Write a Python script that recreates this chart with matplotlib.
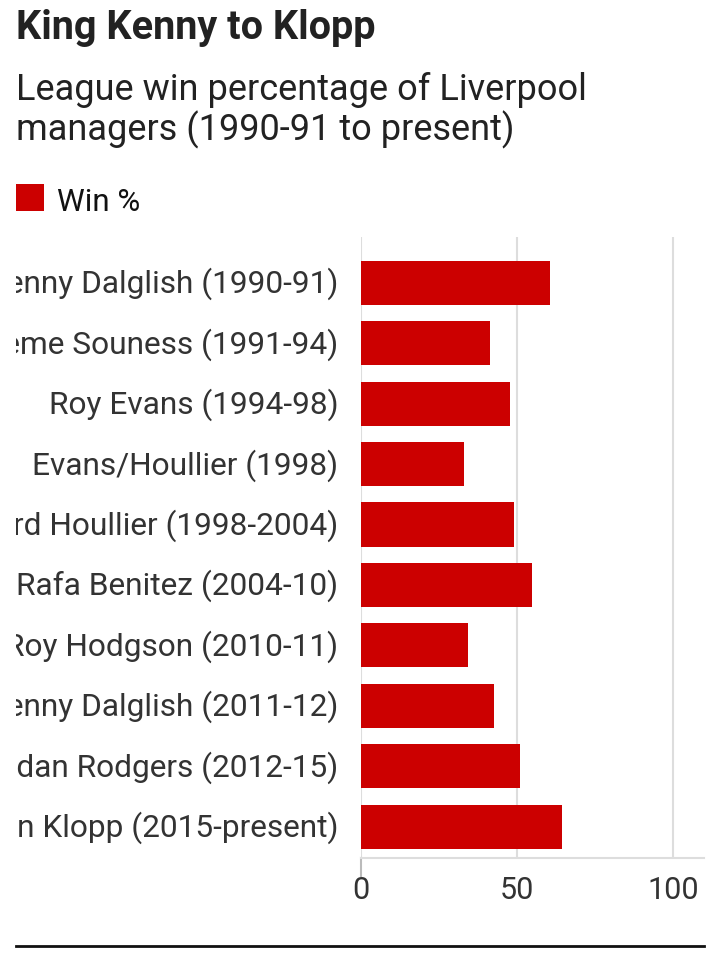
import matplotlib
matplotlib.use("Agg")
import matplotlib.pyplot as plt
from matplotlib.lines import Line2D
from matplotlib.patches import Rectangle
from matplotlib.transforms import Bbox, TransformedBbox, blended_transform_factory, offset_copy

plt.rcParams['font.family'] = ['Roboto', 'DejaVu Sans']

managers = ['Kenny Dalglish (1990-91)', 'Graeme Souness (1991-94)', 'Roy Evans (1994-98)',
            'Evans/Houllier (1998)', 'Gerard Houllier (1998-2004)', 'Rafa Benitez (2004-10)',
            'Roy Hodgson (2010-11)', 'Kenny Dalglish (2011-12)', 'Brendan Rodgers (2012-15)',
            'Jurgen Klopp (2015-present)']
win_pct = [60.7, 41.5, 47.9, 33.2, 49.2, 55.0, 34.5, 42.8, 51.1, 64.6]
x_ticks = [0, 50, 100]

W, H = 720, 954
fig = plt.figure(figsize=(W / 100, H / 100), dpi=100)

# axes placed in pixel terms
left, right, top, bottom = 360.5, 704, 238, 859
ax = fig.add_axes([left / W, 1 - bottom / H, (right - left) / W, (bottom - top) / H])

red = '#cc0000'
ypos = list(range(len(managers)))
ax.barh(ypos, win_pct, height=0.73, color=red, zorder=3)
ax.set_ylim(9.52, -0.76)
ax.set_xlim(0, 110)

ax.set_xticks(x_ticks)
ax.set_xticklabels([str(t) for t in x_ticks])
ax.set_yticks([])
ax.tick_params(axis='x', length=0, pad=12, labelsize=22, labelcolor='#333333')

ax.grid(axis='x', color='#dddddd', linewidth=1.5, zorder=0)
for s in ['top', 'right', 'left']:
    ax.spines[s].set_visible(False)
ax.spines['bottom'].set_color('#dddddd')
ax.spines['bottom'].set_linewidth(1.5)

# small tick under zero
trans = blended_transform_factory(ax.transData, ax.transAxes)
ax.add_line(Line2D([0, 0], [-0.029, 0], transform=trans, color='#bbbbbb', lw=1.5, clip_on=False))

# category labels, cut at the left margin like the original
clip = TransformedBbox(Bbox([[16 / W, 0], [1, 1]]), fig.transFigure)
lab_trans = offset_copy(blended_transform_factory(ax.transAxes, ax.transData), fig=fig,
                        x=-16, y=-6.6, units='points')
for y, name in zip(ypos, managers):
    t = ax.text(0, y, name, transform=lab_trans, ha='right', va='baseline',
                fontsize=22.8, color='#333333')
    t.set_clip_box(clip)
    t.set_clip_on(True)

fig.text(16 / W, 1 - 39 / H, 'King Kenny to Klopp', fontsize=28.5, fontweight='bold',
         color='#222222', va='baseline', ha='left')
fig.text(16 / W, 1 - 100 / H, 'League win percentage of Liverpool', fontsize=26,
         color='#222222', va='baseline', ha='left')
fig.text(16 / W, 1 - 140 / H, 'managers (1990-91 to present)', fontsize=26,
         color='#222222', va='baseline', ha='left')

# legend
fig.patches.append(Rectangle((16 / W, 1 - 212 / H), 28 / W, 27 / H, transform=fig.transFigure,
                             facecolor=red, edgecolor='none'))
fig.text(57 / W, 1 - 211 / H, 'Win %', fontsize=22.5, color='#111111', va='baseline', ha='left')

# bottom rule
fig.add_artist(Line2D([16 / W, 704 / W], [1 - 947 / H, 1 - 947 / H], transform=fig.transFigure,
                      color='#111111', lw=2))

fig.savefig('out.png', dpi=100)
